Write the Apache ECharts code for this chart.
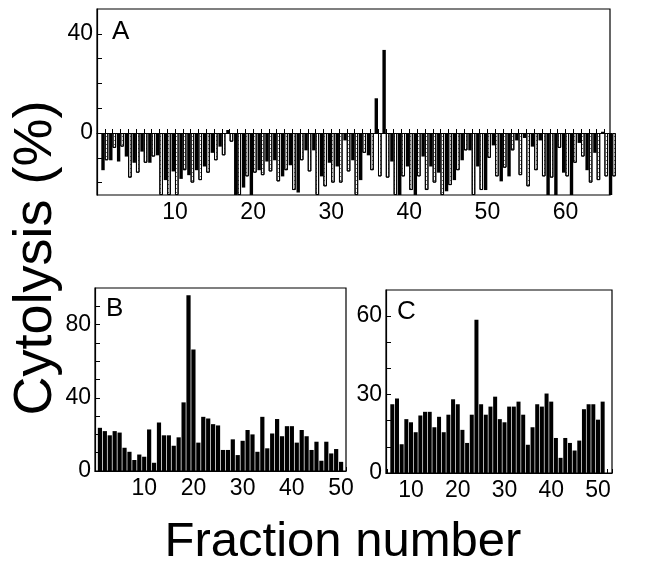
<!DOCTYPE html>
<html><head><meta charset="utf-8">
<script src="https://cdn.jsdelivr.net/npm/echarts@6/dist/echarts.min.js"></script>
<style>html,body{margin:0;padding:0;background:#fff}#c{width:660px;height:565px}</style>
</head><body><div id="c"></div>
<script>
// Panel A: fractions 1..66, two series (solid and open bars)
const fractionsA = [1,2,3,4,5,6,7,8,9,10,11,12,13,14,15,16,17,18,19,20,21,22,23,24,25,26,27,28,29,30,31,32,33,34,35,36,37,38,39,40,41,42,43,44,45,46,47,48,49,50,51,52,53,54,55,56,57,58,59,60,61,62,63,64,65,66];
const solidA = [-15,-11,-11.5,-9.5,-12,-7.5,-12,-9,-19,-15.5,-18.5,-17,-15,-13.5,-8,-5.5,1.2,-25,-22,-25,-15,-11.5,-11,-17.5,-13,-24,-7,-7,-17.5,-12,-13.5,-3,-11,-19,-9,14,33.5,-11.5,-25,-13.5,-25,-9.5,-13.5,-16,-23.5,-19,-11,-7,-13.5,-23,-5,-19.5,-17.5,-3,-2,-5.5,-3,-25,-25,-16,-25,-4,-15,-8,0.5,-25];
const openA = [-11,-6,-5.5,-18,-16,-12,-9.5,-25,-25,-25,-15,-20,-19,-16,-11,-9,-3.5,-25,-17.5,-16,-17,-15.5,-19.5,-15,-23,-11,-15.5,-25,-21.5,-20,-20,-15.5,-25,-8,-15,-17.5,-18,-25,-17.5,-23,-17.5,-23,-20,-25,-21,-15,-7,-25,-23,-10,-17.5,-14,-7,-17,-21.5,-15,-17.5,-18,-6,-17.5,-12,-9.5,-20,-19,-17.5,-17.5];
// Panel B: fractions 1..50
const fractionsB = [1,2,3,4,5,6,7,8,9,10,11,12,13,14,15,16,17,18,19,20,21,22,23,24,25,26,27,28,29,30,31,32,33,34,35,36,37,38,39,40,41,42,43,44,45,46,47,48,49,50];
const valuesB = [23.6,21.8,19.5,21.8,21,12.7,10.5,6,9,7.8,22.7,4.5,26.5,19.5,19.5,13.8,18.4,37.5,96,66.4,15.5,29.6,28.7,25.6,24.9,11.5,11.5,17.3,8.7,16.5,22.4,20,10.5,29.6,12.4,20.5,28.4,19,24.5,24.5,15.5,22.4,19,11.5,16,5.6,16,9.6,12,5];
// Panel C: fractions 6..51
const fractionsC = [6,7,8,9,10,11,12,13,14,15,16,17,18,19,20,21,22,23,24,25,26,27,28,29,30,31,32,33,34,35,36,37,38,39,40,41,42,43,44,45,46,47,48,49,50,51];
const valuesC = [26.3,28.5,11,20.6,19.4,15.6,22,23.4,23.4,17.5,21.5,15.6,22.3,28.2,26.3,16.5,11.5,22.3,58.6,26.3,22.3,25.4,29.2,20.6,19.4,25.4,25.4,27.3,22.3,10.8,17.5,26.3,25.4,30.4,27.3,13.4,5.8,13.4,11.5,8.6,12.4,24.4,26.3,26.3,20.4,27.3];
// tick labels
const xLabelsA = [10,20,30,40,50,60];
const yLabelsA = [0,40];
const xLabelsBC = [10,20,30,40,50];
const yLabelsB = [0,40,80];
const yLabelsC = [0,30,60];

const FONT = 'Liberation Sans';
const zip = (xs, ys) => ys.map((v, i) => [xs[i], v]);

const chart = echarts.init(document.getElementById('c'), null, {renderer: 'canvas'});
const axisLine = {show: true, lineStyle: {color: '#000', width: 1.2}};
const lbl = {color: '#000', fontFamily: FONT, fontSize: 23};

function xAxis(gi, min, max, labels) {
  return {type: 'value', gridIndex: gi, min: min, max: max,
    axisLine: axisLine, splitLine: {show: false},
    axisTick: {show: true, inside: true, length: 4, lineStyle: {color: '#000'},
      customValues: Array.from({length: Math.floor(max) - Math.ceil(min) + 1}, (_, i) => Math.ceil(min) + i)},
    axisLabel: Object.assign({}, lbl, {margin: 6, customValues: labels, formatter: v => String(v)})};
}
function yAxis(gi, min, max, ticks, labels) {
  return {type: 'value', gridIndex: gi, min: min, max: max,
    axisLine: axisLine, splitLine: {show: false},
    axisTick: {show: true, inside: true, length: 5, customValues: ticks, lineStyle: {color: '#000'}},
    axisLabel: Object.assign({}, lbl, {margin: 4, customValues: labels, formatter: v => String(v)})};
}

chart.setOption({
  animation: false,
  backgroundColor: '#fff',
  grid: [
    {left: 97, top: 9, width: 513, height: 186, show: true, borderColor: '#000', borderWidth: 1.2, backgroundColor: 'transparent'},
    {left: 95, top: 288, width: 251, height: 183, show: true, borderColor: '#000', borderWidth: 1.2, backgroundColor: 'transparent'},
    {left: 386, top: 290, width: 226, height: 183, show: true, borderColor: '#000', borderWidth: 1.2, backgroundColor: 'transparent'}
  ],
  xAxis: [
    xAxis(0, 0, 65.7, xLabelsA),
    xAxis(1, 0, 51, xLabelsBC),
    xAxis(2, 4.65, 53, xLabelsBC)
  ],
  yAxis: [
    yAxis(0, -25, 50, [-20,-10,0,10,20,30,40], yLabelsA),
    yAxis(1, 0, 100, [10,20,30,40,50,60,70,80,90], yLabelsB),
    yAxis(2, 0, 70, [10,20,30,40,50,60], yLabelsC)
  ],
  series: [
    {type: 'bar', xAxisIndex: 0, yAxisIndex: 0, data: zip(fractionsA, solidA), barWidth: 3.4, barGap: '0%',
      itemStyle: {color: '#000'}},
    {type: 'bar', xAxisIndex: 0, yAxisIndex: 0, data: zip(fractionsA, openA), barWidth: 3.6, barGap: '0%',
      itemStyle: {color: '#fff', borderColor: '#000', borderWidth: 1,
        decal: {symbol: 'rect', symbolSize: 1, color: 'rgba(0,0,0,0.55)', dashArrayX: [1, 1], dashArrayY: [1, 3], rotation: 0}}},
    {type: 'bar', xAxisIndex: 1, yAxisIndex: 1, data: zip(fractionsB, valuesB), barWidth: 4.2,
      itemStyle: {color: '#000'}},
    {type: 'bar', xAxisIndex: 2, yAxisIndex: 2, data: zip(fractionsC, valuesC), barWidth: 4.0,
      itemStyle: {color: '#000'}}
  ],
  graphic: [
    {type: 'text', left: 112, top: 19, style: {text: 'A', font: '26px "Liberation Sans"', fill: '#000'}},
    {type: 'text', left: 106, top: 296, style: {text: 'B', font: '26px "Liberation Sans"', fill: '#000'}},
    {type: 'text', left: 397, top: 299, style: {text: 'C', font: '26px "Liberation Sans"', fill: '#000'}},
    {type: 'text', x: 36, y: 258, rotation: Math.PI / 2,
      style: {text: 'Cytolysis (%)', font: '54px "Liberation Sans"', fill: '#000', align: 'center', verticalAlign: 'middle'}},
    {type: 'text', x: 343, y: 542,
      style: {text: 'Fraction number', font: '49px "Liberation Sans"', fill: '#000', align: 'center', verticalAlign: 'middle'}}
  ]
});
</script></body></html>
